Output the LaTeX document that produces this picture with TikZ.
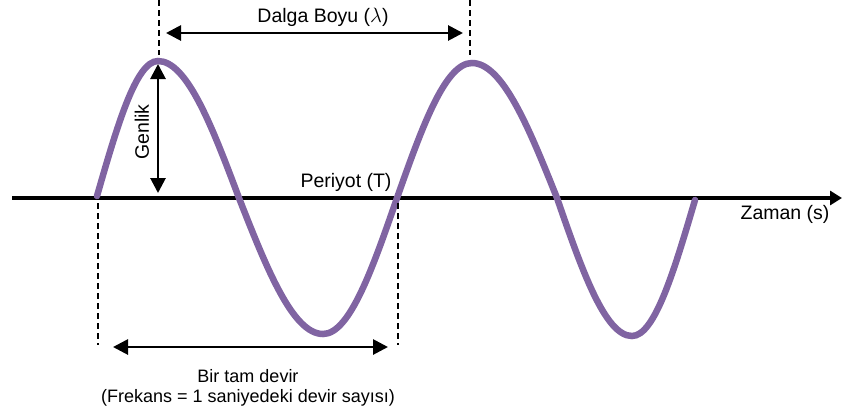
\documentclass[tikz,border=0pt]{standalone}
\usepackage{fontspec}
\setmainfont{Liberation Sans}
\usetikzlibrary{arrows.meta}
\definecolor{wavepurple}{RGB}{128,100,162}
\tikzset{
    wave line/.style={line width=6.5pt,wavepurple,line cap=round},
    dim arrow/.style={line width=2.8pt,<->},
    guide line/.style={line width=1.1pt,dash pattern=on 6pt off 4pt},
    label text/.style={font=\fontsize{19.5}{20}\selectfont,inner sep=0pt},
    >={Triangle[length=15pt,width=15pt]}
}

\begin{document}
\begin{tikzpicture}[x=1pt,y=-1pt]
\useasboundingbox (0,0) rectangle (842,416);
% time axis
\coordinate (axis_start) at (12,198);
\coordinate (axis_end) at (842,198);
\draw[line width=3.5pt,-{Triangle[length=12pt,width=14pt]}] (axis_start) -- (axis_end);
% the wave
\draw[wave line] (97,196) sin (158,61) cos (239,198) sin (323,334) cos (397,198)
    sin (472,63) cos (557,198) sin (632,336) cos (695,200);
% dashed guides
\foreach \name/\x/\ya/\yb in {lamA/159/0/55,lamB/470/0/55,perA/98/203/345,perB/398/203/345}{
    \coordinate (\name_top) at (\x,\ya);
    \coordinate (\name_bot) at (\x,\yb);
    \draw[guide line] (\name_top) -- (\name_bot);
}
% dimension arrows
\coordinate (lam_l) at (166,33);
\coordinate (lam_r) at (463,33);
\coordinate (amp_t) at (158,64);
\coordinate (amp_b) at (158,193);
\coordinate (per_l) at (113,347);
\coordinate (per_r) at (388,347);
\draw[dim arrow] (lam_l) -- (lam_r);
\draw[dim arrow] (amp_t) -- (amp_b);
\draw[dim arrow] (per_l) -- (per_r);
% labels
\node[label text] (lambda_lbl) at (323,17) {Dalga Boyu ($\lambda$)};
\node[label text,rotate=90] (genlik_lbl) at (142,132) {Genlik};
\node[label text] (periyot_lbl) at (346,182) {Periyot (T)};
\node[label text] (zaman_lbl) at (785,214) {Zaman (s)};
\node[label text,font=\fontsize{18}{20}\selectfont,align=center] (devir_lbl) at (248,388) {Bir tam devir\\(Frekans = 1 saniyedeki devir sayısı)};
\end{tikzpicture}
\end{document}
